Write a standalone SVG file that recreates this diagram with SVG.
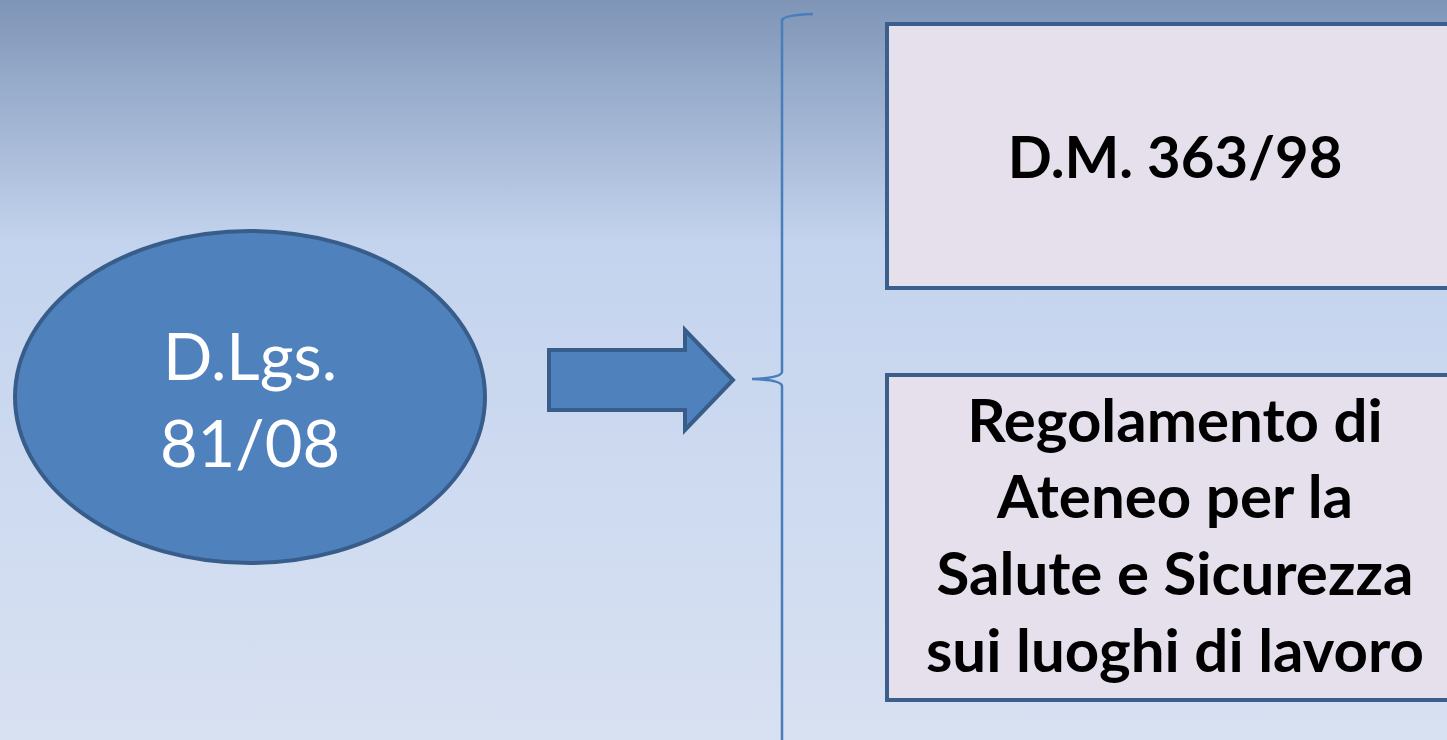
<svg xmlns="http://www.w3.org/2000/svg" width="1447" height="740" viewBox="0 0 1447 740">
<defs>
<linearGradient id="bg" x1="0" y1="0" x2="0" y2="1">
<stop offset="0" stop-color="#7f95b7"/>
<stop offset="0.33" stop-color="#c4d4ee"/>
<stop offset="1" stop-color="#d8e1f2"/>
</linearGradient>
<style>
.shape{fill:#4f81bd;stroke:#385d8a;stroke-width:4;stroke-linejoin:miter}
.box{fill:#e5e0ec;stroke:#3b5e8c;stroke-width:4}
.wt{font-family:Lato,"Open Sans",sans-serif;font-size:65px;fill:#ffffff;text-anchor:middle}
.bt{font-family:Lato,"Open Sans",sans-serif;font-size:60px;font-weight:bold;fill:#000000;text-anchor:middle}
.brace{fill:none;stroke:#4a7ebb;stroke-width:2.5}
</style>
</defs>
<rect x="0" y="0" width="1447" height="740" fill="url(#bg)"/>
<g id="node-dlgs">
<ellipse class="shape" cx="250" cy="397" rx="235" ry="166"/>
<text class="wt" x="250" y="380">D.Lgs.</text>
<text class="wt" x="250" y="467">81/08</text>
</g>
<g id="node-dm">
<rect class="box" x="887" y="24" width="580" height="264"/>
<text class="bt" x="1175" y="178" style="font-size:58px">D.M. 363/98</text>
</g>
<g id="node-regolamento">
<rect class="box" x="887" y="375" width="580" height="325"/>
<text class="bt" x="1175" y="442">Regolamento di</text>
<text class="bt" x="1175" y="518">Ateneo per la</text>
<text class="bt" x="1175" y="595">Salute e Sicurezza</text>
<text class="bt" x="1175" y="672">sui luoghi di lavoro</text>
</g>
<g id="connectors">
<polygon class="shape" points="549,350 685,350 685,330 733,380 685,430 685,410 549,410"/>
<path class="brace" d="M813,14 Q784,15 782,20 L782,372 Q781,378 752,379 Q781,380 782,386 L782,745"/>
</g>
</svg>
